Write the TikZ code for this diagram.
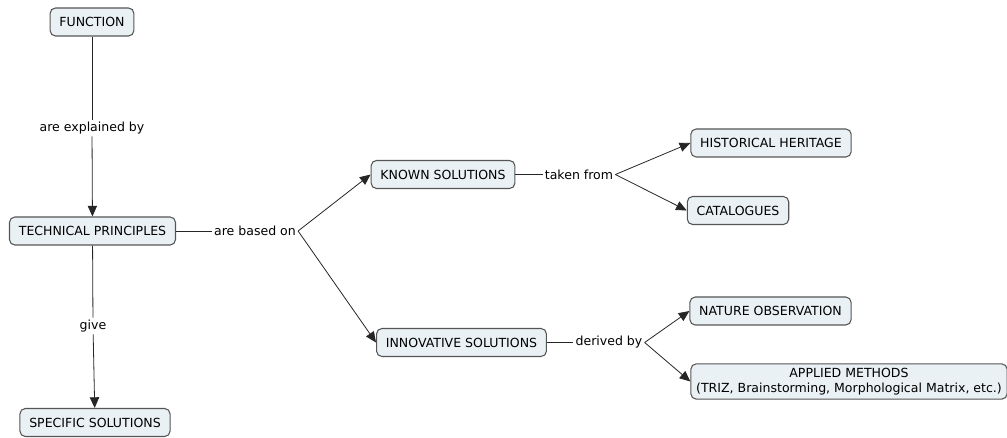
\documentclass[tikz,border=0pt]{standalone}
\usepackage{fontspec}
\setmainfont{DejaVu Sans}
\usetikzlibrary{arrows.meta}
\definecolor{boxfill}{HTML}{EAF1F4}
\definecolor{boxline}{HTML}{555555}
\begin{document}
\begin{tikzpicture}[x=0.75pt,y=-0.75pt,
        concept/.style={draw=boxline, fill=boxfill, rounded corners=4pt, line width=0.8pt, inner xsep=7pt, inner ysep=3pt, minimum height=21pt, align=center, font=\fontsize{9.4}{11.5}\selectfont},
        linkword/.style={fill=white, inner sep=1.5pt, font=\fontsize{9.4}{11.5}\selectfont},
        link/.style={draw=black!85, line width=0.6pt},
        arrow/.style={link, -{Triangle[length=8pt,width=7pt]}}]
        \useasboundingbox (0,0) rectangle (1007,438);

        \node[concept] (function) at (92,22) {FUNCTION};
        \node[concept] (principles) at (92.5,231) {TECHNICAL PRINCIPLES};
        \node[concept] (specific) at (95,422.5) {SPECIFIC SOLUTIONS};
        \node[concept] (known) at (443,174.5) {KNOWN SOLUTIONS};
        \node[concept] (innovative) at (461.5,342.5) {INNOVATIVE SOLUTIONS};
        \node[concept] (heritage) at (771,143) {HISTORICAL HERITAGE};
        \node[concept] (catalogues) at (738,210.5) {CATALOGUES};
        \node[concept] (nature) at (770.5,311) {NATURE OBSERVATION};
        \node[concept, inner xsep=4pt] (methods) at (849,381.5) {APPLIED METHODS\\(TRIZ, Brainstorming, Morphological Matrix, etc.)};

        \node[linkword] (explained) at (92,128) {are explained by};
        \node[linkword] (give) at (93,326) {give};
        \node[linkword] (based) at (255,231) {are based on};
        \node[linkword] (taken) at (579,174.5) {taken from};
        \node[linkword] (derived) at (609,342.5) {derived by};

        \draw[link] (function) -- (explained);
        \draw[arrow] (explained) -- (principles);
        \draw[link] (principles) -- (give);
        \draw[arrow] (give) -- (specific);
        \draw[link] (principles.east) -- (based.west);
        \draw[arrow] (based.east) -- (known.west);
        \draw[arrow] (based.east) -- (innovative.west);
        \draw[link] (known.east) -- (taken.west);
        \draw[arrow] (taken.east) -- (heritage.west);
        \draw[arrow] (taken.east) -- (catalogues.west);
        \draw[link] (innovative.east) -- (derived.west);
        \draw[arrow] (derived.east) -- (nature.west);
        \draw[arrow] (derived.east) -- (methods.west);
    \end{tikzpicture}
\end{document}
